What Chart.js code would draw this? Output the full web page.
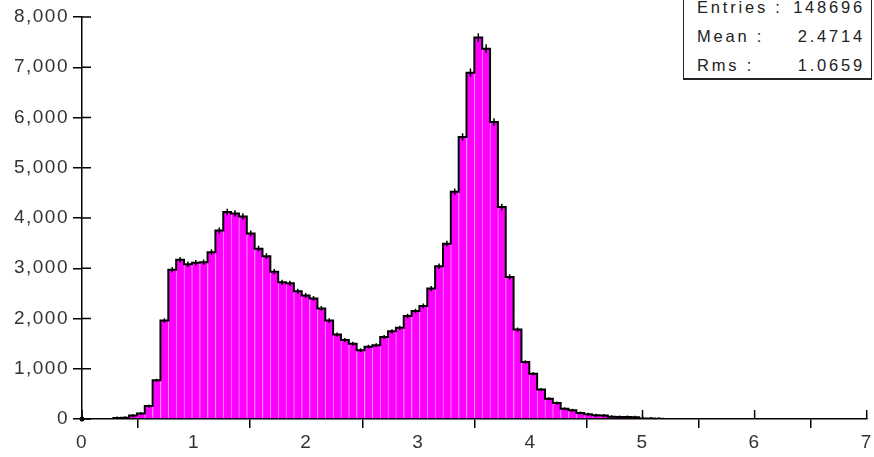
<!DOCTYPE html>
<html>
<head>
<meta charset="utf-8">
<script src="https://cdn.jsdelivr.net/npm/chart.js@4.4.1/dist/chart.umd.min.js"></script>
<style>
  html, body { margin: 0; padding: 0; background: #fff; overflow: hidden; }
  #wrap { position: relative; width: 874px; height: 457px; overflow: hidden; }
  #hist { position: absolute; left: 0; top: 0; }
  #stats {
    position: absolute; left: 683px; top: -10px; width: 189px; height: 90px;
    box-sizing: border-box; background: #fff;
    border: 1px solid #222; border-bottom-width: 2px;
    padding: 0 6px 0 13px;
    font-family: "Liberation Sans", Arial, sans-serif; font-size: 16.5px;
    letter-spacing: 2.8px; color: #222;
  }
  #stats .row { display: flex; justify-content: space-between; height: 29px; line-height: 29px; }
  #stats .row:first-child { margin-top: 2px; }
</style>
</head>
<body>
<div id="wrap">
  <canvas id="hist" width="875" height="457"></canvas>
  <div id="stats"></div>
</div>
<script>
// histogram: 100 bins of width 0.07 starting at 0
const binLow = 0;
const binWidth = 0.07;
const counts = [
  0, 0, 0, 0, 20, 25, 70, 110, 260, 770,
  1960, 2970, 3170, 3080, 3110, 3120, 3320, 3750, 4120, 4090,
  4030, 3690, 3390, 3240, 2930, 2720, 2700, 2540, 2460, 2400,
  2200, 1960, 1680, 1570, 1500, 1370, 1440, 1470, 1630, 1745,
  1815, 2050, 2150, 2250, 2595, 3040, 3490, 4520, 5610, 6890,
  7590, 7370, 5910, 4220, 2825, 1780, 1135, 900, 585, 405,
  320, 206, 173, 120, 93, 75, 70, 45, 40, 38,
  35, 12, 8, 5, 0, 0, 0, 0, 0, 0,
  0, 0, 0, 0, 0, 0, 0, 0, 0, 0,
  0, 0, 0, 0, 0, 0, 0, 0, 0, 0
];
const xTicks = [0, 1, 2, 3, 4, 5, 6, 7];
const yTicks = [0, 1000, 2000, 3000, 4000, 5000, 6000, 7000, 8000];

// stats box
const statLabels = ["Entries :", "Mean :", "Rms :"];
const statValues = ["148696", "2.4714", "1.0659"];

const statsBox = document.getElementById("stats");
statLabels.forEach((lab, i) => {
  const row = document.createElement("div");
  row.className = "row";
  row.innerHTML = "<span>" + lab + "</span><span>" + statValues[i] + "</span>";
  statsBox.appendChild(row);
});

const histPoints = counts.map((c, i) => ({ x: +(binLow + binWidth * (i + 0.5)).toFixed(3), y: c }));

// half length of the error mark, sqrt(N) in pixels
function errPx(ctx) {
  const v = ctx.raw ? ctx.raw.y : 0;
  if (!v) return 0;
  const y = ctx.chart.scales.y;
  return Math.max(1.5, y.getPixelForValue(0) - y.getPixelForValue(Math.sqrt(v)));
}

// ticks cross the axis lines: draw the inner half under the bars
const innerTicks = {
  id: "innerTicks",
  beforeDraw(chart) {
    chart.ctx.letterSpacing = "1.5px";
  },
  beforeDatasetsDraw(chart) {
    const { ctx, chartArea, scales } = chart;
    ctx.save();
    ctx.strokeStyle = "#000";
    ctx.lineWidth = 1.5;
    ctx.beginPath();
    yTicks.forEach(v => {
      const y = scales.y.getPixelForValue(v);
      ctx.moveTo(chartArea.left, y);
      ctx.lineTo(chartArea.left + 9, y);
    });
    xTicks.forEach(v => {
      const x = scales.x.getPixelForValue(v);
      ctx.moveTo(x, chartArea.bottom);
      ctx.lineTo(x, chartArea.bottom - 9);
    });
    ctx.stroke();
    ctx.restore();
  },
  afterDatasetsDraw(chart) {
    // little marker at the origin
    const { ctx, scales } = chart;
    ctx.save();
    ctx.fillStyle = "#000";
    ctx.beginPath();
    ctx.arc(scales.x.getPixelForValue(0), scales.y.getPixelForValue(0), 2.5, 0, Math.PI * 2);
    ctx.fill();
    ctx.restore();
  }
};

const tickFont = { family: "'Liberation Sans', Arial, sans-serif", size: 19 };

new Chart(document.getElementById("hist"), {
  type: "bar",
  data: {
    datasets: [
      {
        type: "line",
        label: "errors",
        data: histPoints,
        showLine: false,
        pointStyle: "line",
        rotation: 90,
        pointRadius: errPx,
        pointBorderColor: "#000",
        pointBorderWidth: 1.5,
        order: 0
      },
      {
        type: "line",
        label: "outline",
        data: histPoints,
        stepped: "middle",
        borderColor: "#000",
        borderWidth: 2,
        pointRadius: 0,
        fill: false,
        order: 1
      },
      {
        type: "bar",
        label: "entries",
        data: histPoints,
        backgroundColor: "#ff00ff",
        borderColor: "#ff8cff",
        borderWidth: { left: 1, right: 0, top: 0, bottom: 0 },
        borderSkipped: false,
        barPercentage: 1,
        categoryPercentage: 1,
        order: 2
      }
    ]
  },
  options: {
    responsive: false,
    animation: false,
    events: [],
    layout: { padding: { top: 17, right: 0, left: 0, bottom: 0 } },
    plugins: { legend: { display: false }, tooltip: { enabled: false } },
    scales: {
      x: {
        type: "linear",
        min: 0,
        max: 7,
        offset: false,
        afterBuildTicks: s => { s.ticks = xTicks.map(v => ({ value: v })); },
        ticks: { font: tickFont, color: "#333", padding: 3, maxRotation: 0 },
        grid: { drawOnChartArea: false, tickLength: 9, color: "#000", lineWidth: 1.5 },
        border: { color: "#000", width: 1.5 },
        afterFit: s => { s.height = 38; }
      },
      y: {
        min: 0,
        max: 8000,
        afterBuildTicks: s => { s.ticks = yTicks.map(v => ({ value: v })); },
        ticks: { font: tickFont, color: "#333", padding: 4 },
        grid: { drawOnChartArea: false, tickLength: 9, color: "#000", lineWidth: 1.5 },
        border: { color: "#000", width: 1.5 },
        afterFit: s => { s.width = 82; }
      }
    }
  },
  plugins: [innerTicks]
});
</script>
</body>
</html>
